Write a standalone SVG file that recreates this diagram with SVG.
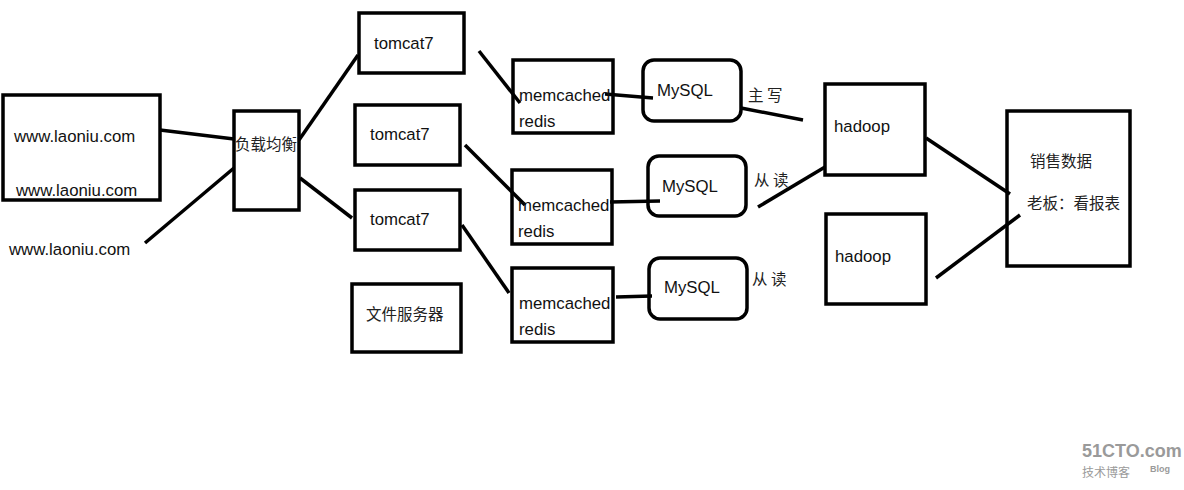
<svg xmlns="http://www.w3.org/2000/svg" width="1184" height="490" viewBox="0 0 1184 490">
<style>
.b{fill:none;stroke:#000;stroke-width:3.5}
.t{font-family:"Liberation Sans","Noto Sans CJK SC",sans-serif;font-size:16.8px;fill:#111}
.c{font-family:"Noto Sans CJK SC","Liberation Sans",sans-serif;font-size:15.5px;fill:#222}
.l{stroke:#000;stroke-width:3.5;fill:none}
</style>
<rect width="1184" height="490" fill="#fff"/>
<g id="connectors">
<line class="l" x1="160" y1="130" x2="234" y2="139"/>
<line class="l" x1="145" y1="243" x2="234" y2="168"/>
<line class="l" x1="299" y1="140" x2="358" y2="55"/>
<line class="l" x1="300" y1="178" x2="352" y2="218"/>
<line class="l" x1="479" y1="51" x2="520" y2="103"/>
<line class="l" x1="465" y1="145" x2="525" y2="205"/>
<line class="l" x1="462" y1="225" x2="509" y2="293"/>
<line class="l" x1="605" y1="94" x2="653" y2="98"/>
<line class="l" x1="610" y1="202" x2="660" y2="201"/>
<line class="l" x1="616" y1="297" x2="652" y2="296"/>
<line class="l" x1="741" y1="108" x2="803" y2="120"/>
<line class="l" x1="758" y1="207" x2="825" y2="167"/>
<line class="l" x1="926" y1="138" x2="1010" y2="194"/>
<line class="l" x1="936" y1="278" x2="1020" y2="215"/>
</g>
<g id="web">
<rect class="b" x="3" y="95" width="157" height="105"/>
<text class="t" x="14" y="142">www.laoniu.com</text>
<text class="t" x="16" y="196">www.laoniu.com</text>
</g>
<g id="web3"><text class="t" x="9" y="255">www.laoniu.com</text></g>
<g id="lb">
<rect class="b" x="234" y="111" width="65" height="99"/>
<text class="c" x="235" y="150">负载均衡</text>
</g>
<g id="tomcat1"><rect class="b" x="359" y="13" width="105" height="60"/><text class="t" x="374" y="49">tomcat7</text></g>
<g id="tomcat2"><rect class="b" x="355" y="105" width="105" height="60"/><text class="t" x="370" y="140">tomcat7</text></g>
<g id="tomcat3"><rect class="b" x="355" y="190" width="105" height="60"/><text class="t" x="370" y="225">tomcat7</text></g>
<g id="fileserver"><rect class="b" x="352" y="284" width="109" height="68"/><text class="c" x="366" y="320">文件服务器</text></g>
<g id="cache1"><rect class="b" x="513" y="60" width="100" height="73"/><text class="t" x="519" y="101">memcached</text><text class="t" x="519" y="127">redis</text></g>
<g id="cache2"><rect class="b" x="512" y="170" width="100" height="74"/><text class="t" x="518" y="211">memcached</text><text class="t" x="518" y="237">redis</text></g>
<g id="cache3"><rect class="b" x="512" y="268" width="101" height="74"/><text class="t" x="519" y="309">memcached</text><text class="t" x="519" y="335">redis</text></g>
<g id="mysql1"><rect class="b" x="643" y="60" width="98" height="61" rx="11"/><text class="t" x="657" y="96">MySQL</text></g>
<g id="mysql2"><rect class="b" x="648" y="156" width="98" height="60" rx="11"/><text class="t" x="662" y="192">MySQL</text></g>
<g id="mysql3"><rect class="b" x="649" y="258" width="98" height="61" rx="11"/><text class="t" x="664" y="293">MySQL</text></g>
<g id="labels">
<text class="c" x="748" y="101">主 写</text>
<text class="c" x="754" y="186">从 读</text>
<text class="c" x="752" y="285">从 读</text>
</g>
<g id="hadoop1"><rect class="b" x="825" y="84" width="100" height="91"/><text class="t" x="834" y="132">hadoop</text></g>
<g id="hadoop2"><rect class="b" x="826" y="214" width="100" height="90"/><text class="t" x="835" y="262">hadoop</text></g>
<g id="report"><rect class="b" x="1007" y="111" width="123" height="155"/><text class="c" x="1030" y="167">销售数据</text><text class="c" x="1027" y="209">老板：看报表</text></g>
<g id="watermark" fill="#9a9a9a">
<text x="1082" y="457" font-family="'Liberation Sans',sans-serif" font-weight="bold" font-size="18">51CTO.com</text>
<text x="1082" y="477" font-family="'Noto Sans CJK SC',sans-serif" font-size="12">技术博客</text>
<text x="1150" y="472" font-family="'Liberation Sans',sans-serif" font-weight="bold" font-size="9">Blog</text>
</g>
</svg>
